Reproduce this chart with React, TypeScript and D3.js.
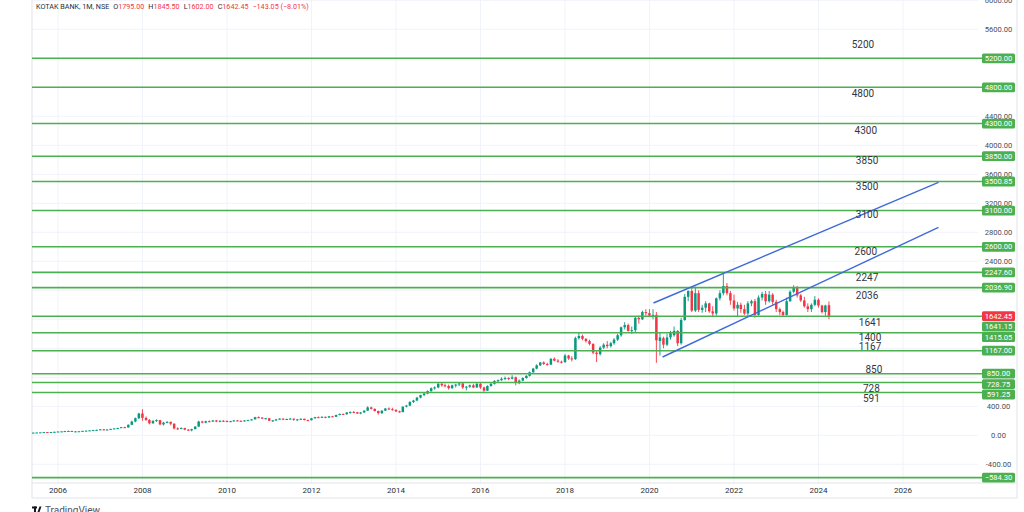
import React from 'react';
import * as d3 from 'd3';

const W = 1024;
const H = 512;

// Monthly candles, June 2005 .. April 2024: [open, high, low, close]
const firstYear = 2005;
const firstMonthIndex = 5;
const ohlc: [number, number, number, number][] = [
  // 2005 Jun-Dec
  [36, 38, 34, 37], [37, 40, 36, 39], [39, 42, 38, 41], [41, 45, 40, 44], [44, 45, 38, 40], [40, 46, 39, 45], [45, 50, 44, 48],
  // 2006
  [48, 53, 46, 52], [52, 56, 50, 54], [54, 60, 52, 58], [58, 64, 55, 60], [60, 62, 48, 52], [52, 56, 45, 54], [54, 58, 50, 56], [56, 62, 55, 61], [61, 66, 59, 64], [64, 70, 62, 68], [68, 75, 66, 72], [72, 78, 68, 75],
  // 2007
  [75, 85, 72, 82], [82, 86, 70, 74], [74, 82, 70, 80], [80, 90, 78, 88], [88, 98, 85, 95], [95, 104, 90, 100], [100, 115, 98, 112], [112, 118, 100, 108], [108, 150, 106, 145], [145, 200, 140, 190], [190, 245, 180, 235], [235, 310, 225, 300],
  // 2008
  [300, 360, 200, 240], [240, 260, 200, 210], [210, 225, 150, 165], [165, 205, 160, 200], [200, 220, 185, 210], [210, 212, 140, 150], [150, 185, 135, 175], [175, 195, 165, 185], [185, 190, 140, 160], [160, 165, 80, 95], [95, 110, 75, 90], [90, 110, 85, 100],
  // 2009
  [100, 105, 70, 78], [78, 85, 60, 68], [68, 90, 55, 85], [85, 125, 82, 120], [120, 200, 118, 190], [190, 200, 165, 175], [175, 200, 165, 195], [195, 205, 180, 190], [190, 210, 185, 205], [205, 210, 180, 190], [190, 205, 180, 200], [200, 210, 190, 198],
  // 2010
  [198, 205, 180, 188], [188, 200, 182, 195], [195, 210, 190, 205], [205, 212, 195, 200], [200, 205, 185, 195], [195, 210, 190, 205], [205, 215, 198, 210], [210, 225, 205, 220], [220, 255, 218, 250], [250, 260, 235, 245], [245, 250, 225, 230], [230, 240, 220, 235],
  // 2011
  [235, 236, 195, 200], [200, 210, 185, 205], [205, 225, 198, 220], [220, 235, 215, 230], [230, 232, 210, 215], [215, 230, 210, 225], [225, 240, 220, 230], [230, 232, 200, 215], [215, 225, 200, 220], [220, 232, 210, 228], [228, 230, 205, 210], [210, 215, 195, 208],
  // 2012
  [208, 240, 205, 235], [235, 255, 230, 250], [250, 260, 240, 248], [248, 262, 240, 255], [255, 258, 235, 245], [245, 265, 240, 262], [262, 268, 250, 255], [255, 285, 252, 280], [280, 300, 275, 295], [295, 300, 280, 290], [290, 320, 285, 315], [315, 330, 300, 320],
  // 2013
  [320, 335, 310, 318], [318, 322, 295, 300], [300, 320, 290, 315], [315, 345, 310, 340], [340, 400, 335, 385], [385, 395, 355, 365], [365, 370, 330, 335], [335, 340, 285, 305], [305, 345, 295, 340], [340, 375, 335, 370], [370, 385, 350, 360], [360, 380, 340, 350],
  // 2014
  [350, 360, 320, 330], [330, 340, 310, 320], [320, 400, 318, 395], [395, 420, 385, 410], [410, 470, 400, 460], [460, 490, 445, 480], [480, 530, 470, 520], [520, 560, 510, 555], [555, 590, 540, 575], [575, 620, 565, 610], [610, 660, 600, 650], [650, 675, 630, 660],
  // 2015
  [660, 720, 650, 710], [710, 720, 670, 690], [690, 710, 660, 680], [680, 700, 630, 650], [650, 700, 640, 690], [690, 710, 660, 700], [700, 730, 680, 715], [715, 720, 640, 660], [660, 680, 620, 670], [670, 700, 655, 690], [690, 710, 650, 660], [660, 720, 655, 710],
  // 2016
  [710, 720, 640, 660], [660, 670, 600, 615], [615, 690, 610, 680], [680, 720, 670, 710], [710, 760, 700, 750], [750, 770, 730, 760], [760, 800, 750, 780], [780, 810, 760, 790], [790, 800, 760, 780], [780, 830, 770, 800], [800, 810, 690, 725], [720, 770, 705, 755],
  // 2017
  [755, 800, 745, 790], [790, 830, 780, 820], [820, 880, 810, 870], [870, 930, 860, 920], [920, 980, 910, 965], [965, 1010, 955, 1005], [1005, 1020, 970, 985], [985, 1000, 960, 975], [975, 1065, 970, 1055], [1055, 1075, 1020, 1030], [1030, 1050, 1000, 1015], [1015, 1030, 990, 1010],
  // 2018
  [1010, 1120, 1000, 1100], [1100, 1110, 1040, 1060], [1060, 1090, 1020, 1050], [1050, 1360, 1040, 1340], [1340, 1410, 1320, 1370], [1370, 1390, 1310, 1330], [1330, 1340, 1280, 1300], [1300, 1320, 1240, 1260], [1260, 1270, 1120, 1140], [1140, 1160, 1010, 1120], [1120, 1230, 1100, 1210], [1210, 1270, 1190, 1250],
  // 2019
  [1250, 1300, 1200, 1230], [1230, 1290, 1210, 1270], [1270, 1340, 1250, 1320], [1320, 1400, 1300, 1380], [1380, 1500, 1360, 1490], [1490, 1560, 1460, 1520], [1520, 1540, 1430, 1440], [1440, 1500, 1400, 1450], [1450, 1640, 1420, 1620], [1620, 1650, 1540, 1600], [1600, 1720, 1590, 1700], [1700, 1740, 1650, 1685],
  // 2020
  [1685, 1740, 1630, 1650], [1650, 1740, 1600, 1660], [1660, 1700, 1000, 1310], [1300, 1420, 1100, 1350], [1340, 1360, 1200, 1250], [1250, 1400, 1230, 1350], [1350, 1440, 1320, 1410], [1380, 1500, 1360, 1440], [1440, 1450, 1230, 1270], [1270, 1620, 1250, 1590], [1590, 1950, 1580, 1910], [1910, 2000, 1850, 1990],
  // 2021
  [1990, 2050, 1700, 1720], [1720, 2050, 1700, 1960], [1960, 2000, 1700, 1730], [1730, 1800, 1690, 1760], [1760, 1850, 1700, 1820], [1820, 1830, 1690, 1710], [1710, 1780, 1640, 1680], [1680, 1900, 1650, 1890], [1890, 2000, 1860, 1960], [1960, 2250, 1930, 2060], [2060, 2100, 1930, 1960], [1960, 1990, 1800, 1860],
  // 2022
  [1860, 1940, 1720, 1750], [1750, 1840, 1640, 1800], [1800, 1830, 1690, 1740], [1740, 1800, 1660, 1680], [1680, 1850, 1630, 1820], [1820, 1870, 1780, 1850], [1850, 1880, 1620, 1660], [1660, 1930, 1650, 1900], [1900, 1980, 1860, 1950], [1950, 1990, 1800, 1850], [1850, 1990, 1830, 1940], [1940, 1960, 1800, 1840],
  // 2023
  [1840, 1870, 1700, 1740], [1740, 1760, 1660, 1700], [1700, 1720, 1640, 1660], [1660, 1900, 1650, 1850], [1850, 2000, 1840, 1980], [1980, 2070, 1960, 2040], [2040, 2060, 1900, 1930], [1930, 1950, 1840, 1860], [1860, 1910, 1760, 1780], [1780, 1820, 1700, 1740], [1740, 1820, 1700, 1800], [1800, 1920, 1780, 1870],
  // 2024 Jan-Apr
  [1870, 1890, 1760, 1790], [1790, 1800, 1680, 1700], [1700, 1800, 1650, 1790], [1795, 1845.5, 1602, 1642.45],
];

const levelValues = [5200, 4800, 4300, 3850, 3500.85, 3100, 2600, 2247.6, 2036.9, 1641.15, 1415.05, 1167, 850, 728.75, 591.25, -584.3];
const lastPrice = 1642.45;

const priceTicks = [-400, 0, 400, 800, 1200, 1600, 2000, 2400, 2800, 3200, 3600, 4000, 4400, 4800, 5200, 5600, 6000];
const yearTicks = [2006, 2008, 2010, 2012, 2014, 2016, 2018, 2020, 2022, 2024, 2026];

// Text notes drawn on the chart: label, price of text centre, time of text centre (decimal year)
const noteTexts = ['5200', '4800', '4300', '3850', '3500', '3100', '2600', '2247', '2036', '1641', '1400', '1167', '850', '728', '591'];
const notePrices = [5385, 4710, 4210, 3797, 3428, 3052, 2540, 2170, 1935, 1553, 1348, 1218, 910, 648, 510];
const noteYears = [2025.05, 2025.05, 2025.12, 2025.15, 2025.15, 2025.15, 2025.12, 2025.15, 2025.15, 2025.22, 2025.22, 2025.22, 2025.31, 2025.25, 2025.25];

// Channel trend lines: [decimal year, price]
const upperChannel: [number, number][] = [[2020.095, 1825], [2026.84, 3490]];
const lowerChannel: [number, number][] = [[2020.31, 1080], [2026.84, 2869]];

const header = {
  symbol: 'KOTAK BANK, 1M, NSE',
  o: '1795.00', h: '1845.50', l: '1602.00', c: '1642.45', chg: '\u2212143.05 (\u22128.01%)',
};

const GREEN = '#089981';
const RED = '#f23645';
const LEVEL = '#4caf50';
const BLUE = '#3f6ad8';
const FONT = 'Roboto, "Noto Sans", sans-serif';

function yearToDate(yr: number): Date {
  const y0 = Math.floor(yr);
  const start = new Date(y0, 0, 1).getTime();
  const end = new Date(y0 + 1, 0, 1).getTime();
  return new Date(start + (yr - y0) * (end - start));
}

export default function App() {
  const plotLeft = 32;
  const plotRight = 978;
  const plotBottom = 483;
  const axisBottom = 498;

  const x = d3.scaleTime().domain([new Date(2006, 0, 1), new Date(2026, 0, 1)]).range([58, 903]);
  const y = d3.scaleLinear().domain([0, 6000]).range([435.3, 0.3]);

  const candles = ohlc.map((d, i) => ({
    date: new Date(firstYear, firstMonthIndex + i, 1),
    o: d[0], h: d[1], l: d[2], c: d[3],
  }));
  const bodyW = 2.5;

  // price-label boxes on the axis with collision avoidance (pushed downward)
  const boxH = 10.4;
  const boxes = [
    { v: lastPrice, color: RED, text: lastPrice.toFixed(2), pri: 0 },
    ...levelValues.map((v) => ({ v, color: LEVEL, text: v.toFixed(2), pri: 1 })),
  ].sort((a, b) => (b.v - a.v) || (a.pri - b.pri));
  let prevY = -Infinity;
  const placed = boxes.map((b) => {
    let cy = y(b.v);
    if (cy < prevY + boxH) cy = prevY + boxH;
    prevY = cy;
    return { ...b, cy };
  });
  // tick labels fully covered by a price box are not shown
  const visibleTicks = priceTicks.filter((t) => placed.every((b) => Math.abs(b.cy - y(t)) >= 5));

  const line = d3.line<[number, number]>().x((d) => x(yearToDate(d[0]))).y((d) => y(d[1]));

  return (
    <svg width={W} height={H} style={{ position: 'absolute', left: 0, top: 0, background: '#fff' }} fontFamily={FONT}>
      <defs>
        <clipPath id="plot">
          <rect x={plotLeft} y={0} width={plotRight - plotLeft} height={plotBottom} />
        </clipPath>
      </defs>
      <rect x={0} y={0} width={W} height={H} fill="#fff" />

      {/* grid */}
      <g clipPath="url(#plot)">
        {priceTicks.map((t) => (
          <line key={'hg' + t} x1={plotLeft} x2={plotRight} y1={y(t)} y2={y(t)} stroke="#f0f3fa" strokeWidth={1} />
        ))}
        {yearTicks.map((t) => (
          <line key={'vg' + t} x1={x(new Date(t, 0, 1))} x2={x(new Date(t, 0, 1))} y1={0} y2={plotBottom} stroke="#f0f3fa" strokeWidth={1} />
        ))}
      </g>

      {/* borders */}
      <line x1={plotLeft} x2={plotLeft} y1={0} y2={axisBottom} stroke="#e0e3eb" strokeWidth={1} />
      <line x1={1017} x2={1017} y1={0} y2={axisBottom} stroke="#e0e3eb" strokeWidth={1} />
      <line x1={plotLeft} x2={1017} y1={plotBottom} y2={plotBottom} stroke="#e0e3eb" strokeWidth={1} />
      <line x1={plotLeft} x2={1017} y1={axisBottom} y2={axisBottom} stroke="#e0e3eb" strokeWidth={1} />

      {/* candles */}
      <g clipPath="url(#plot)">
        {candles.map((d, i) => {
          const cx = x(d.date);
          const up = d.c >= d.o;
          const col = up ? GREEN : RED;
          const top = y(Math.max(d.o, d.c));
          const bot = y(Math.min(d.o, d.c));
          return (
            <g key={'c' + i}>
              <line x1={cx} x2={cx} y1={y(d.h)} y2={y(d.l)} stroke={col} strokeWidth={0.9} />
              <rect x={cx - bodyW / 2} y={top} width={bodyW} height={Math.max(1, bot - top)} fill={col} />
            </g>
          );
        })}
      </g>

      {/* horizontal levels */}
      {levelValues.map((v) => (
        <line key={'lv' + v} x1={plotLeft} x2={983} y1={y(v)} y2={y(v)} stroke={LEVEL} strokeWidth={1.6} />
      ))}

      {/* channel */}
      <g clipPath="url(#plot)">
        <path d={line(upperChannel) || ''} stroke={BLUE} strokeWidth={1.4} fill="none" />
        <path d={line(lowerChannel) || ''} stroke={BLUE} strokeWidth={1.4} fill="none" />
      </g>

      {/* notes */}
      {noteTexts.map((t, i) => (
        <text key={'n' + i} x={x(yearToDate(noteYears[i]))} y={y(notePrices[i])} dy="0.35em" textAnchor="middle" fontSize={10} fill="#333640">
          {t}
        </text>
      ))}

      {/* price axis tick labels */}
      {visibleTicks.map((t) => (
        <text key={'pt' + t} x={998.5} y={y(t)} dy="0.35em" textAnchor="middle" fontSize={7.6} fill="#4a4e59">
          {t.toFixed(2)}
        </text>
      ))}

      {/* price axis boxes */}
      {placed.map((b, i) => (
        <g key={'b' + i}>
          <rect x={982} y={b.cy - boxH / 2 + 0.3} width={33} height={boxH - 0.6} rx={1.5} fill={b.color} />
          <text x={998.5} y={b.cy} dy="0.35em" textAnchor="middle" fontSize={7.6} fill="#fff">
            {b.v < 0 ? '\u2212' + Math.abs(b.v).toFixed(2) : b.text}
          </text>
        </g>
      ))}

      {/* time axis labels */}
      {yearTicks.map((t) => (
        <text key={'yt' + t} x={x(new Date(t, 0, 1))} y={490.5} dy="0.35em" textAnchor="middle" fontSize={8} fill="#2a2e39">
          {t}
        </text>
      ))}

      {/* header */}
      <text x={36} y={8.6} fontSize={7.2} fill="#2a2e39">
        <tspan>{header.symbol}</tspan>
        <tspan dx={4}>O</tspan><tspan fill={RED}>{header.o}</tspan>
        <tspan dx={4}>H</tspan><tspan fill={RED}>{header.h}</tspan>
        <tspan dx={4}>L</tspan><tspan fill={RED}>{header.l}</tspan>
        <tspan dx={4}>C</tspan><tspan fill={RED}>{header.c}</tspan>
        <tspan dx={4} fill={RED}>{header.chg}</tspan>
      </text>

      {/* logo */}
      <g fill="#131722">
        <rect x={32} y={506.5} width={5} height={2} />
        <rect x={34} y={506.5} width={2} height={6} />
        <path d="M37.5 512 L39.5 506.5 L41.5 506.5 L39.5 512 Z" />
        <text x={45} y={514} fontSize={10} fill="#50535e">TradingView</text>
      </g>
    </svg>
  );
}
